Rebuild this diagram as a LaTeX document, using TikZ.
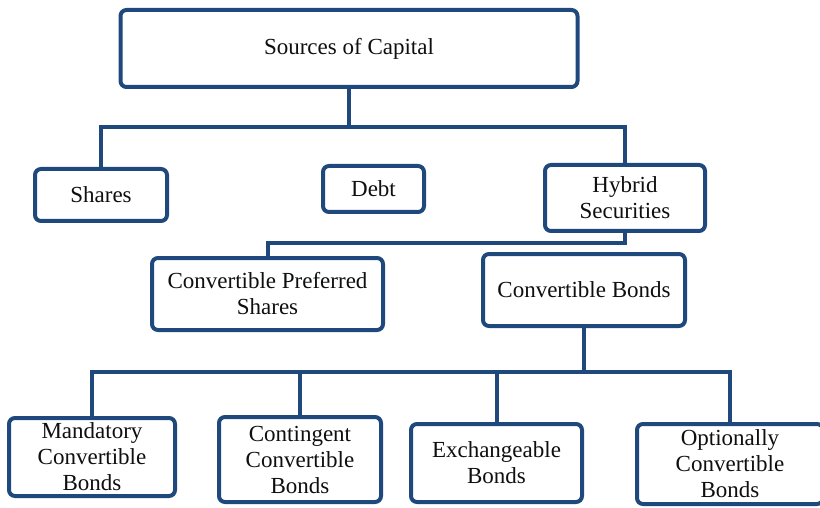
\documentclass[tikz,border=0pt]{standalone}
\usepackage{fontspec}
\newfontfamily\dfont{Liberation Serif}
\definecolor{boxblue}{RGB}{31,73,125}
\definecolor{txt}{RGB}{15,15,15}
\begin{document}
\begin{tikzpicture}[x=1pt,y=-1pt,
  box/.style={draw=boxblue, line width=4pt, rounded corners=6pt, fill=white,
    inner sep=0pt, align=center, text=txt,
    font=\dfont\fontsize{23}{26}\selectfont},
  link/.style={draw=boxblue, line width=4pt}]
\useasboundingbox (0,0) rectangle (820,508);
% boxes
\node[box, minimum width=457pt, minimum height=77pt] (src) at (349,48.5) {Sources of Capital};
\node[box, minimum width=132pt, minimum height=52pt] (shares) at (101,195) {Shares};
\node[box, minimum width=101pt, minimum height=46pt] (debt) at (373.5,189) {Debt};
\node[box, minimum width=160pt, minimum height=66pt] (hyb) at (625,198) {Hybrid\\Securities};
\node[box, minimum width=231pt, minimum height=72pt] (cps) at (267.5,294) {Convertible Preferred\\Shares};
\node[box, minimum width=202pt, minimum height=72pt] (cb) at (584,290) {Convertible Bonds};
\node[box, minimum width=166pt, minimum height=78pt] (mcb) at (92,457) {Mandatory\\Convertible\\Bonds};
\node[box, minimum width=162pt, minimum height=85pt] (ccb) at (300,459.5) {Contingent\\Convertible\\Bonds};
\node[box, minimum width=171pt, minimum height=78pt] (eb) at (496.5,463) {Exchangeable\\Bonds};
\node[box, minimum width=186pt, minimum height=80pt] (ocb) at (730,464) {Optionally\\Convertible\\Bonds};
% junctions
\coordinate (j1) at (349,127);
\coordinate (j2) at (625,243);
\coordinate (j3) at (584,372);
% connectors
\draw[link] (src.south) -- (j1);
\draw[link] (shares.north) |- (j1) -| (hyb.north);
\draw[link] (hyb.south) -- (j2) -| (cps.north);
\draw[link] (cb.south) -- (j3);
\draw[link] (mcb.north) |- (j3) -| (ocb.north);
\draw[link] (ccb.north) -- (ccb.north |- j3);
\draw[link] (eb.north) -- (eb.north |- j3);
\end{tikzpicture}
\end{document}
